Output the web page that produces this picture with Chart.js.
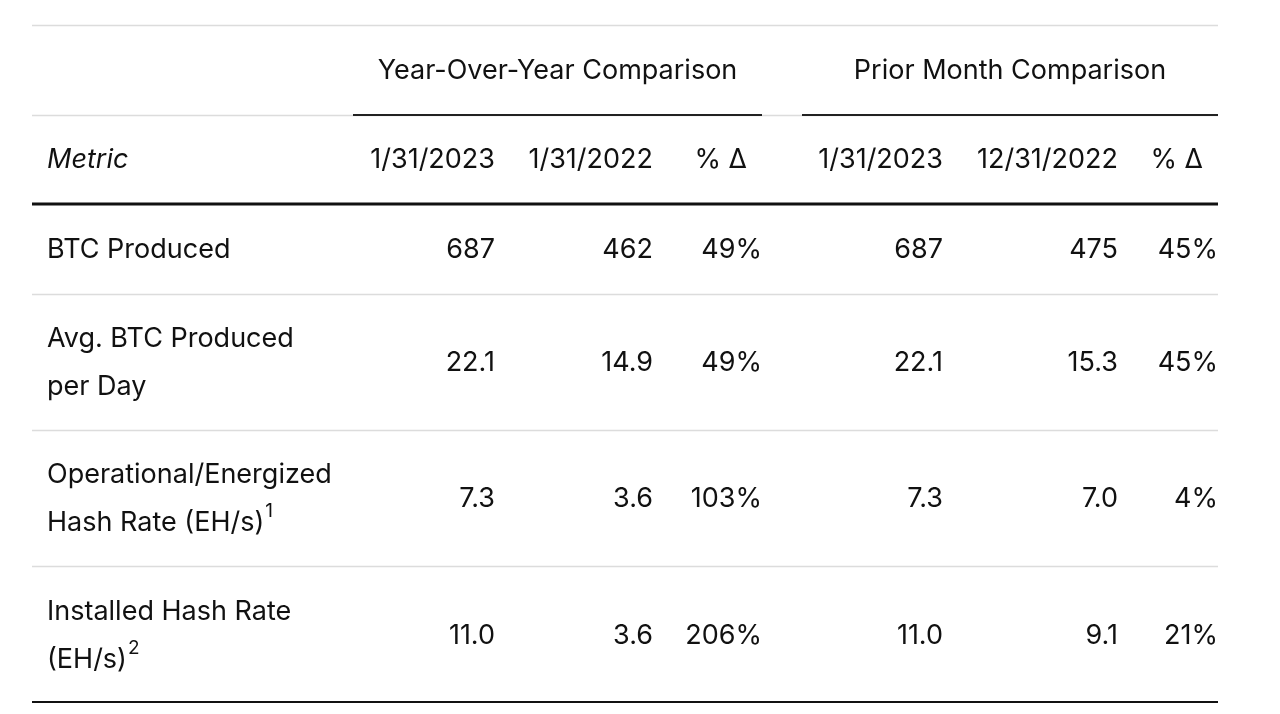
<!DOCTYPE html>
<html lang="en">
<head>
    <meta charset="UTF-8">
    <title>Monthly Production Comparison</title>
    <style>
        body { margin: 0; background: #ffffff; }
        #wrap { width: 1280px; height: 714px; }
    </style>
    <script src="https://cdn.jsdelivr.net/npm/chart.js"></script>
</head>
<body>
<div id="wrap"><canvas id="tbl" width="1280" height="714"></canvas></div>
<script>
    // table content
    const groups = ['Year-Over-Year Comparison', 'Prior Month Comparison'];
    const columns = ['1/31/2023', '1/31/2022', '% Δ', '1/31/2023', '12/31/2022', '% Δ'];
    const metrics = [['BTC Produced'], ['Avg. BTC Produced', 'per Day'],
                     ['Operational/Energized', 'Hash Rate (EH/s)'], ['Installed Hash Rate', '(EH/s)']];
    const footnotes = ['', '', '1', '2'];
    const yoyCurrent = ['687', '22.1', '7.3', '11.0'];
    const yoyPrior = ['462', '14.9', '3.6', '3.6'];
    const yoyChange = ['49%', '49%', '103%', '206%'];
    const momCurrent = ['687', '22.1', '7.3', '11.0'];
    const momPrior = ['475', '15.3', '7.0', '9.1'];
    const momChange = ['45%', '45%', '4%', '21%'];

    // layout (pixels)
    const FONT = '"Inter", "Helvetica Neue", Arial, sans-serif';
    const SIZE = 27;
    const tableLeft = 32, tableRight = 1218;
    const colRight = [495, 653, 762, 943, 1118, 1218];
    const headerShift = [0, 0, 15, 0, 0, 15];
    const groupSpan = [[353, 762], [802, 1218]];
    const rowMid = [250, 363, 499, 636];
    const rowLines = [294, 430, 566];
    const lineGap = 48;

    const series = [yoyCurrent, yoyPrior, yoyChange, momCurrent, momPrior, momChange];
    const datasets = series.map((vals, c) => ({
        label: columns[c],
        data: vals.map((v, r) => ({ x: colRight[c], y: rowMid[r], text: v })),
        pointRadius: 0,
        showLine: false
    }));

    function hline(ctx, x1, x2, y, w, color) {
        ctx.save();
        ctx.strokeStyle = color;
        ctx.lineWidth = w;
        ctx.beginPath();
        ctx.moveTo(x1, y);
        ctx.lineTo(x2, y);
        ctx.stroke();
        ctx.restore();
    }

    const tablePlugin = {
        id: 'tablePlugin',
        afterDatasetsDraw(chart) {
            const ctx = chart.ctx;
            const xs = chart.scales.x, ys = chart.scales.y;
            const px = v => xs.getPixelForValue(v);
            const py = v => ys.getPixelForValue(v);

            // rules
            hline(ctx, px(tableLeft), px(tableRight), py(25.5), 1.5, '#dcdcdc');
            hline(ctx, px(tableLeft), px(tableRight), py(115.5), 1.5, '#dcdcdc');
            groupSpan.forEach(s => hline(ctx, px(s[0]), px(s[1]), py(115), 2, '#222222'));
            hline(ctx, px(tableLeft), px(tableRight), py(204), 3, '#111111');
            rowLines.forEach(y => hline(ctx, px(tableLeft), px(tableRight), py(y + 0.5), 1.5, '#dcdcdc'));
            hline(ctx, px(tableLeft), px(tableRight), py(702), 2, '#111111');

            ctx.save();
            ctx.fillStyle = '#111111';
            ctx.textBaseline = 'middle';

            // group headers
            ctx.font = SIZE + 'px ' + FONT;
            ctx.textAlign = 'center';
            groups.forEach((g, i) => ctx.fillText(g, px((groupSpan[i][0] + groupSpan[i][1]) / 2), py(71)));

            // column headers
            ctx.font = 'italic ' + SIZE + 'px ' + FONT;
            ctx.textAlign = 'left';
            ctx.fillText('Metric', px(47), py(160));
            ctx.font = SIZE + 'px ' + FONT;
            ctx.textAlign = 'right';
            columns.forEach((c, i) => ctx.fillText(c, px(colRight[i] - headerShift[i]), py(160)));

            // metric labels
            ctx.textAlign = 'left';
            metrics.forEach((lines, r) => {
                const top = rowMid[r] - (lines.length - 1) * lineGap / 2;
                lines.forEach((t, k) => {
                    ctx.font = SIZE + 'px ' + FONT;
                    const y = top + k * lineGap;
                    ctx.fillText(t, px(47), py(y));
                    if (k === lines.length - 1 && footnotes[r]) {
                        const w = ctx.measureText(t).width;
                        ctx.font = '19px ' + FONT;
                        ctx.fillText(footnotes[r], px(47) + w + 1, py(y - 12));
                    }
                });
            });

            // cell values at each dataset point
            ctx.font = SIZE + 'px ' + FONT;
            ctx.textAlign = 'right';
            chart.data.datasets.forEach((ds, i) => {
                chart.getDatasetMeta(i).data.forEach((pt, r) => {
                    ctx.fillText(ds.data[r].text, pt.x, pt.y);
                });
            });
            ctx.restore();
        }
    };

    new Chart(document.getElementById('tbl'), {
        type: 'scatter',
        data: { datasets: datasets },
        options: {
            responsive: false,
            animation: false,
            layout: { padding: 0 },
            scales: {
                x: { type: 'linear', min: 0, max: 1280, display: false },
                y: { type: 'linear', min: 0, max: 714, reverse: true, display: false }
            },
            plugins: {
                legend: { display: false },
                tooltip: { enabled: false }
            }
        },
        plugins: [tablePlugin]
    });
</script>
</body>
</html>
